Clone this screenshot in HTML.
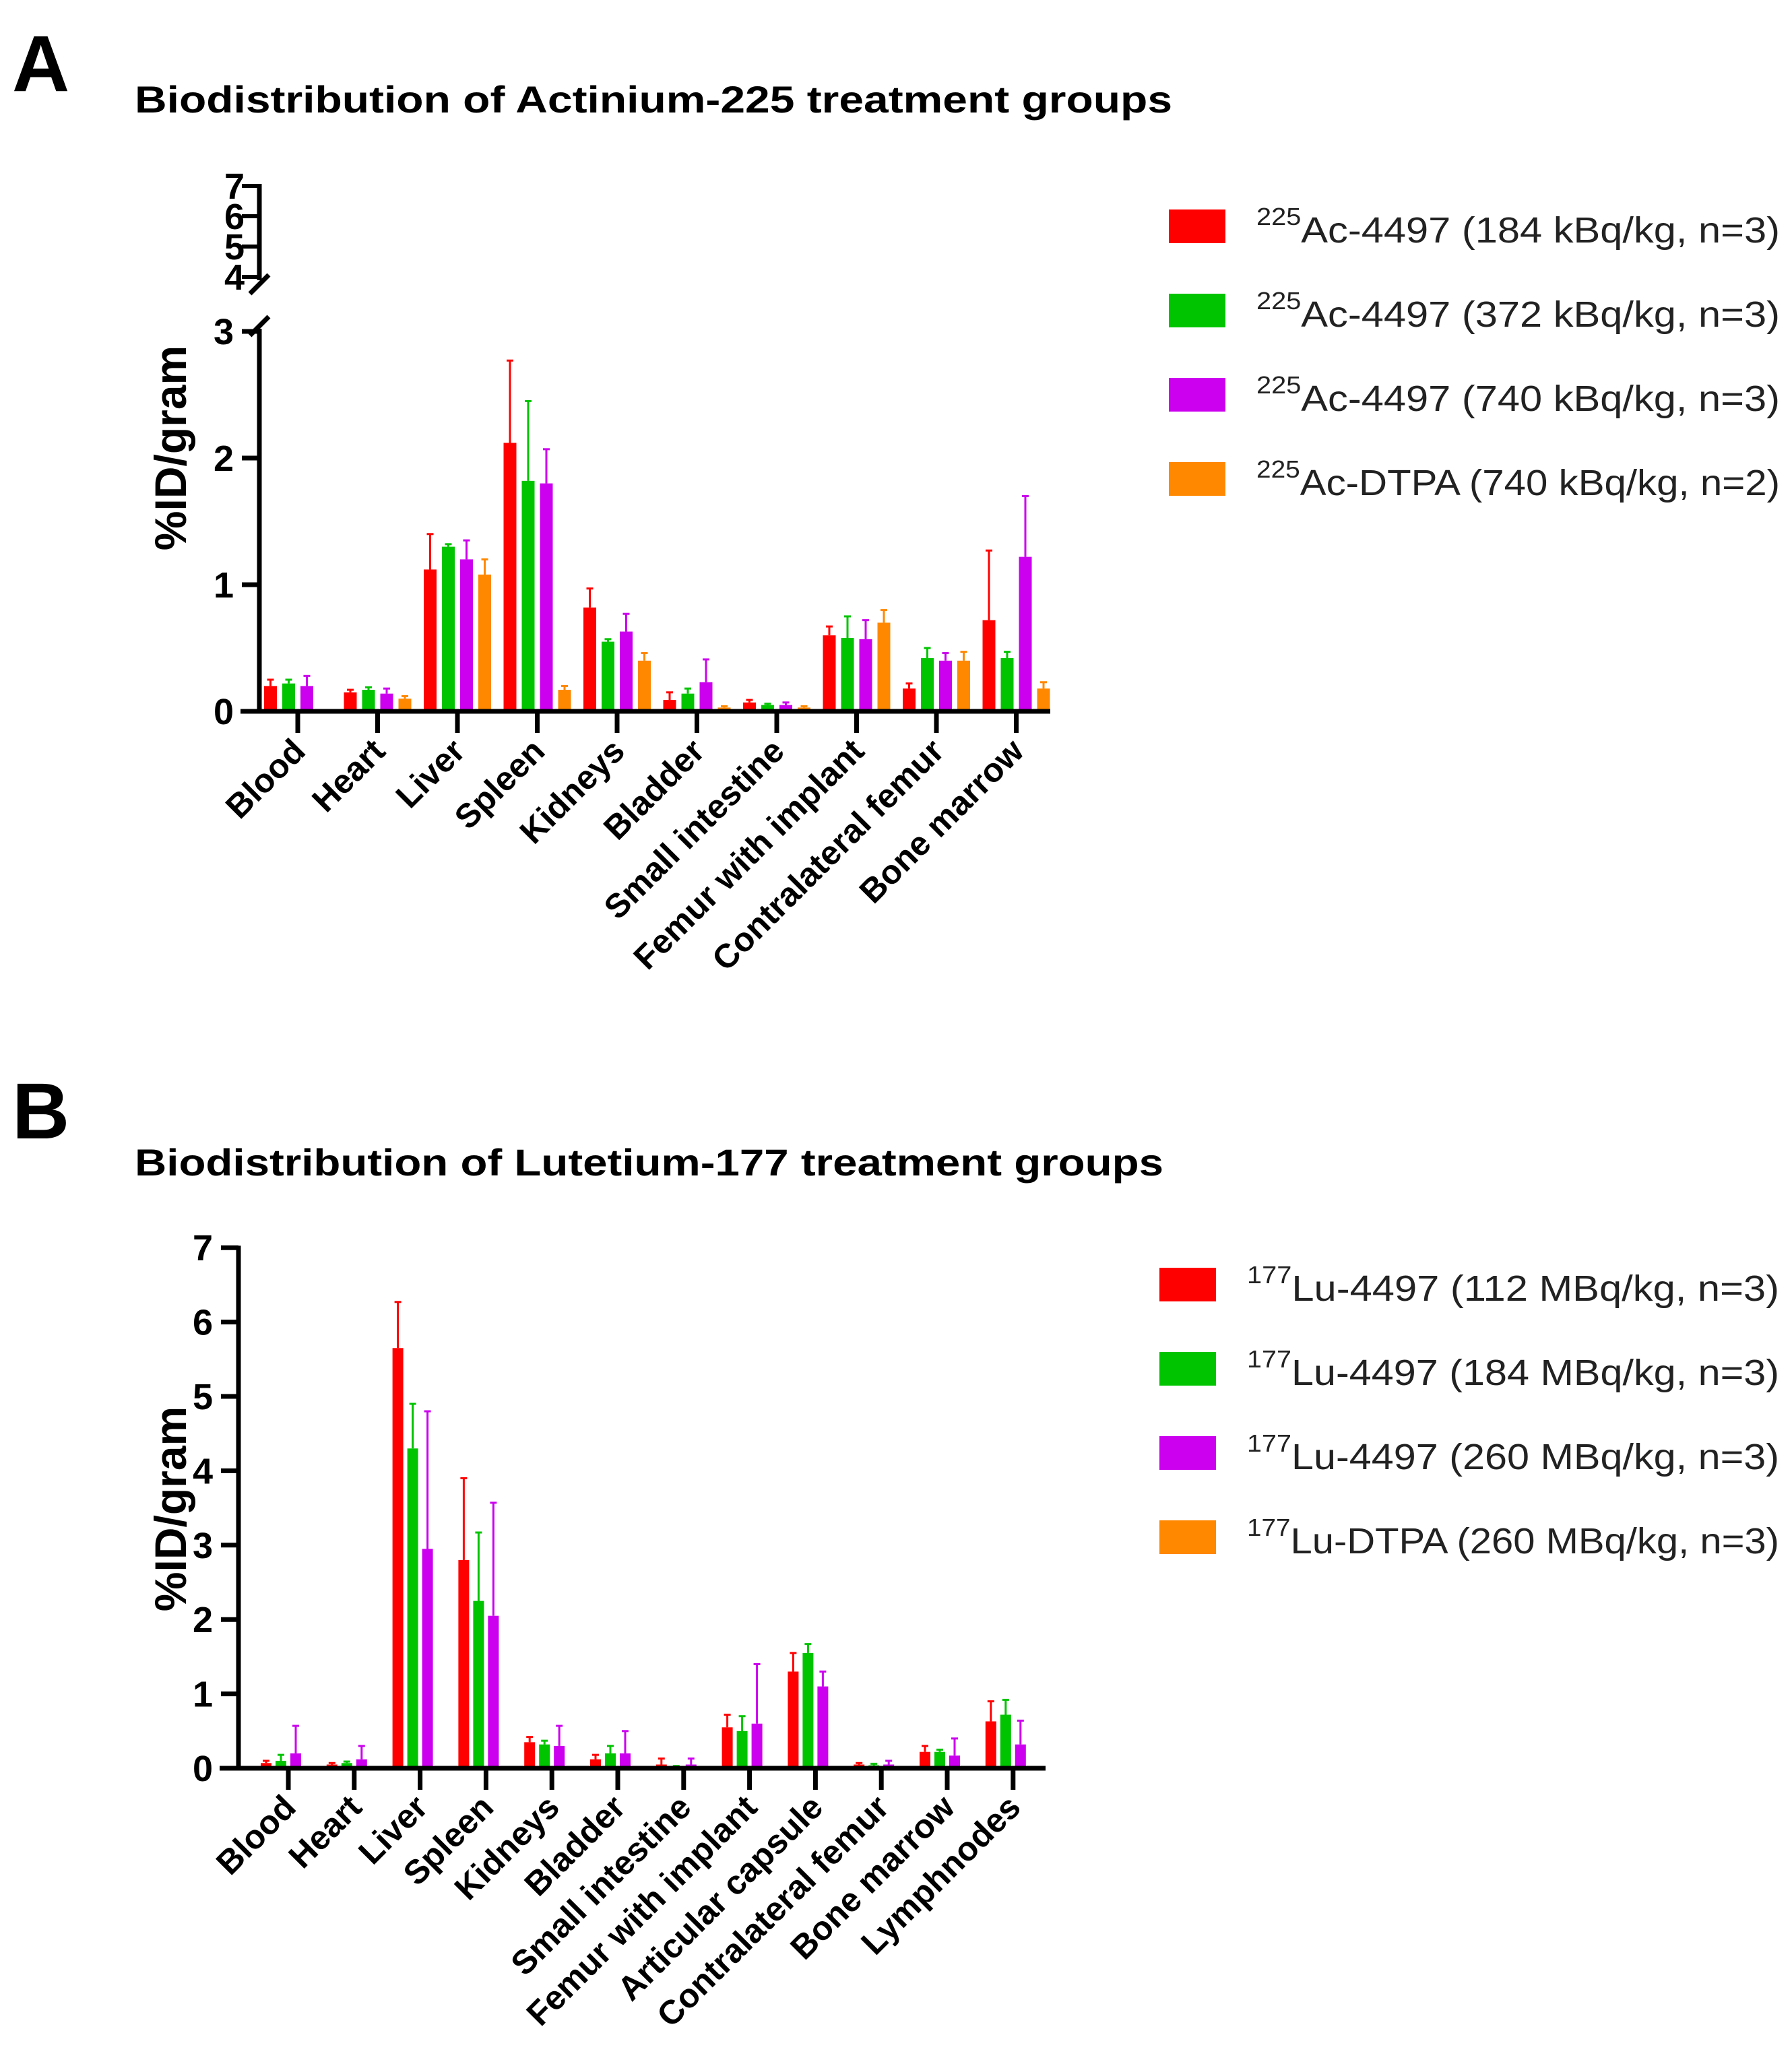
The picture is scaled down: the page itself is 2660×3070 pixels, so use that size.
<!DOCTYPE html>
<html><head><meta charset="utf-8"><style>
html,body{margin:0;padding:0;background:#fff;}
svg{display:block;font-family:"Liberation Sans",sans-serif;}
</style></head><body>
<svg id="svg" width="2660" height="3070" viewBox="0 0 2660 3070" xmlns="http://www.w3.org/2000/svg">
<text x="18" y="135" font-size="118" font-weight="bold">A</text>
<text x="200" y="167" font-size="56" font-weight="bold" textLength="1540" lengthAdjust="spacingAndGlyphs">Biodistribution of Actinium-225 treatment groups</text>
<text x="18" y="1690" font-size="118" font-weight="bold">B</text>
<text x="200" y="1745" font-size="56" font-weight="bold" textLength="1527" lengthAdjust="spacingAndGlyphs">Biodistribution of Lutetium-177 treatment groups</text>
<g id="chartA"></g>
<g id="chartB"></g>
</svg>
<script>
const colors = ["#ff0000","#00c400","#cc00ee","#ff8800"];
// Chart A data
const catsA = ["Blood","Heart","Liver","Spleen","Kidneys","Bladder","Small intestine","Femur with implant","Contralateral femur","Bone marrow"];
const a184 = [0.20,0.15,1.12,2.12,0.82,0.09,0.07,0.60,0.18,0.72];
const a184err = [0.05,0.02,0.28,0.65,0.15,0.06,0.02,0.07,0.04,0.55];
const a372 = [0.22,0.17,1.30,1.82,0.55,0.14,0.05,0.58,0.42,0.42];
const a372err = [0.03,0.02,0.02,0.63,0.02,0.04,0.01,0.17,0.08,0.05];
const a740 = [0.20,0.14,1.20,1.80,0.63,0.23,0.05,0.57,0.40,1.22];
const a740err = [0.08,0.04,0.15,0.27,0.14,0.18,0.02,0.15,0.06,0.48];
const aDTPA = [0.01,0.10,1.08,0.17,0.40,0.03,0.03,0.70,0.40,0.18];
const aDTPAerr = [0.00,0.02,0.12,0.03,0.06,0.01,0.01,0.10,0.07,0.05];
const ticksAlow = [0,1,2,3];
const ticksAhigh = [4,5,6,7];
const legendA = [["225","Ac-4497 (184 kBq/kg, n=3)"],["225","Ac-4497 (372 kBq/kg, n=3)"],["225","Ac-4497 (740 kBq/kg, n=3)"],["225","Ac-DTPA (740 kBq/kg, n=2)"]];
// Chart B data
const catsB = ["Blood","Heart","Liver","Spleen","Kidneys","Bladder","Small intestine","Femur with implant","Articular capsule","Contralateral femur","Bone marrow","Lymphnodes"];
const b112 = [0.07,0.05,5.65,2.80,0.35,0.12,0.05,0.55,1.30,0.05,0.22,0.63];
const b112err = [0.03,0.02,0.62,1.10,0.07,0.06,0.08,0.17,0.25,0.02,0.08,0.27];
const b184 = [0.10,0.07,4.30,2.25,0.32,0.20,0.02,0.50,1.55,0.04,0.22,0.72];
const b184err = [0.08,0.02,0.60,0.92,0.05,0.10,0.01,0.20,0.12,0.02,0.03,0.20];
const b260 = [0.20,0.12,2.95,2.05,0.30,0.20,0.05,0.60,1.10,0.05,0.17,0.32];
const b260err = [0.37,0.18,1.85,1.52,0.27,0.30,0.08,0.80,0.20,0.05,0.23,0.32];
const bDTPA = [0.00,0.00,0.00,0.01,0.03,0.01,0.00,0.01,0.00,0.01,0.01,0.01];
const bDTPAerr = [0,0,0,0,0,0,0,0,0,0,0,0];
const ticksB = [0,1,2,3,4,5,6,7];
const legendB = [["177","Lu-4497 (112 MBq/kg, n=3)"],["177","Lu-4497 (184 MBq/kg, n=3)"],["177","Lu-4497 (260 MBq/kg, n=3)"],["177","Lu-DTPA (260 MBq/kg, n=3)"]];

const NS="http://www.w3.org/2000/svg";
function mk(parent,tag,attrs){const e=document.createElementNS(NS,tag);for(const k in attrs)e.setAttribute(k,attrs[k]);parent.appendChild(e);return e;}

function drawChart(g,cfg){
  const {cats,series,errs,y,x0,x1,firstC,step,barW,barGap,zeroY,labelY,legend,legX,legY,legStep,ylabY,legLen} = cfg;
  cats.forEach((c,i)=>{
    const cx = firstC + i*step;
    series.forEach((s,j)=>{
      const bx = cx + (j-1.5)*barGap - barW/2;
      const top = y(s[i]);
      const r = mk(g,'rect',{x:bx,y:top,width:barW,height:Math.max(zeroY-top,0),fill:colors[j]});
      
      
      const e = errs[j][i];
      if(e>0){
        const et = y(s[i]+e);
        const l = mk(g,'line',{x1:bx+barW/2,x2:bx+barW/2,y1:top,y2:et,stroke:colors[j],'stroke-width':3});
        
        
        mk(g,'line',{x1:bx+barW/2-5,x2:bx+barW/2+5,y1:et,y2:et,stroke:colors[j],'stroke-width':3});
      }
    });
    mk(g,'line',{x1:cx,x2:cx,y1:zeroY,y2:zeroY+32,stroke:'#000','stroke-width':7});
    const t = mk(g,'text',{x:0,y:0,'font-size':50,'font-weight':'bold','text-anchor':'end',transform:`translate(${cx+14},${labelY}) rotate(-45)`});
    t.textContent = c;
    
    
  });
  const xa = mk(g,'line',{x1:x0-28,x2:x1,y1:zeroY,y2:zeroY,stroke:'#000','stroke-width':7});
  
  
  const yl = mk(g,'text',{x:0,y:0,'font-size':66,'font-weight':'bold','text-anchor':'middle',transform:`translate(276,${ylabY}) rotate(-90)`});
  yl.textContent='%ID/gram';
  
  
  legend.forEach((L,k)=>{
    const cy = legY + k*legStep;
    const sw = mk(g,'rect',{x:legX,y:cy-25,width:84,height:50,fill:colors[k]});
    
    
    const t = mk(g,'text',{x:legX+130,y:cy+24,'font-size':54,fill:'#222'});
    
    
    const s1 = mk(t,'tspan',{'font-size':36,dy:-26}); s1.textContent=L[0];
    const s2 = mk(t,'tspan',{dy:26}); s2.textContent=L[1];
    t.setAttribute('textLength', legLen);
    t.setAttribute('lengthAdjust','spacingAndGlyphs');
  });
}

(function(){
  const g=document.getElementById('chartA');
  const zeroY=1056, unit=188, ax=385;
  const yLow=v=>zeroY - v*unit;
  const yHigh=v=>411 - (v-4)*45;
  const y=v=> v<=3 ? yLow(v) : 492 - (v-3)*20;
  drawChart(g,{cats:catsA,series:[a184,a372,a740,aDTPA],errs:[a184err,a372err,a740err,aDTPAerr],y,x0:ax,x1:1559,firstC:442,step:118.5,barW:19,barGap:27,zeroY,labelY:1118,legend:legendA,legX:1735,legY:336,legStep:125,ylabY:665,legLen:777});
  mk(g,'line',{x1:ax,x2:ax,y1:zeroY,y2:488,stroke:'#000','stroke-width':7,});
  mk(g,'line',{x1:ax,x2:ax,y1:273,y2:416,stroke:'#000','stroke-width':7,});
  mk(g,'line',{x1:ax-14,x2:ax+14,y1:436,y2:408,stroke:'#000','stroke-width':7});
  mk(g,'line',{x1:ax-14,x2:ax+14,y1:498,y2:470,stroke:'#000','stroke-width':7});
  ticksAlow.forEach(v=>{
    mk(g,'line',{x1:ax-26,x2:ax,y1:yLow(v),y2:yLow(v),stroke:'#000','stroke-width':7});
    const t=mk(g,'text',{x:ax-38,y:yLow(v)+19,'font-size':54,'font-weight':'bold','text-anchor':'end'});t.textContent=v;
    
    
  });
  ticksAhigh.forEach(v=>{
    mk(g,'line',{x1:ax-26,x2:ax,y1:yHigh(v),y2:yHigh(v),stroke:'#000','stroke-width':6});
    const t=mk(g,'text',{x:ax-22,y:yHigh(v)+19,'font-size':54,'font-weight':'bold','text-anchor':'end'});t.textContent=v;
    
    
  });
})();
(function(){
  const g=document.getElementById('chartB');
  const zeroY=2625, unit=110.4, ax=354;
  const y=v=>zeroY - v*unit;
  drawChart(g,{cats:catsB,series:[b112,b184,b260,bDTPA],errs:[b112err,b184err,b260err,bDTPAerr],y,x0:ax,x1:1552,firstC:428,step:97.8,barW:16,barGap:22,zeroY,labelY:2686,legend:legendB,legX:1721,legY:1907,legStep:125,ylabY:2240,legLen:790});
  mk(g,'line',{x1:ax,x2:ax,y1:zeroY,y2:y(7)-3,stroke:'#000','stroke-width':7,});
  ticksB.forEach(v=>{
    mk(g,'line',{x1:ax-26,x2:ax,y1:y(v),y2:y(v),stroke:'#000','stroke-width':7});
    const t=mk(g,'text',{x:ax-38,y:y(v)+19,'font-size':54,'font-weight':'bold','text-anchor':'end'});t.textContent=v;
    
    
  });
})();
</script>
</body></html>
